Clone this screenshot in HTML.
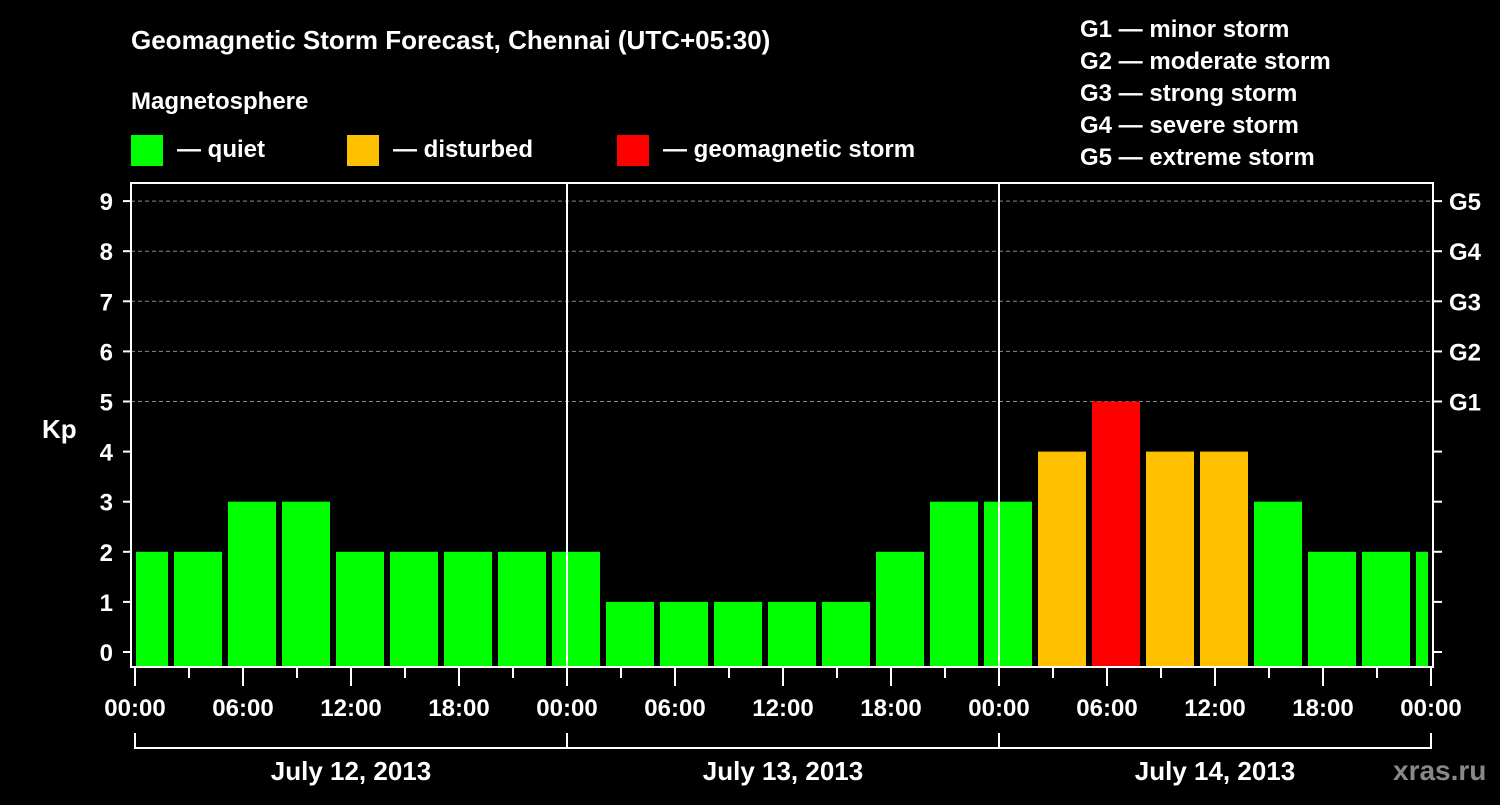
<!DOCTYPE html>
<html><head><meta charset="utf-8"><style>
html,body{margin:0;padding:0;background:#000;}
svg text{font-family:"Liberation Sans",Arial,sans-serif;font-weight:bold;fill:#fff;}
</style></head><body>
<svg id="chart" width="1500" height="800" xmlns="http://www.w3.org/2000/svg">
<rect width="1500" height="800" fill="#000"/>
<text x="131" y="49" font-size="26">Geomagnetic Storm Forecast, Chennai (UTC+05:30)</text>
<text x="131" y="109" font-size="24">Magnetosphere</text>
<g>
<rect x="131" y="135" width="32" height="31" fill="#00ff00"/>
<text x="177" y="157" font-size="24">— quiet</text>
<rect x="347" y="135" width="32" height="31" fill="#ffc000"/>
<text x="393" y="157" font-size="24">— disturbed</text>
<rect x="617" y="135" width="32" height="31" fill="#ff0000"/>
<text x="663" y="157" font-size="24">— geomagnetic storm</text>
</g>
<g font-size="24">
<text x="1080" y="37">G1 — minor storm</text>
<text x="1080" y="69">G2 — moderate storm</text>
<text x="1080" y="101">G3 — strong storm</text>
<text x="1080" y="133">G4 — severe storm</text>
<text x="1080" y="165">G5 — extreme storm</text>
</g>
<text x="42" y="438" font-size="26">Kp</text>
<g id="grid"></g>
<g id="bars"></g>
<g id="axes"></g>
<text x="1393" y="780" font-size="28" style="fill:#888">xras.ru</text>
</svg>
<script>
const kpValues = [2,2,3,3,2,2,2,2,2,1,1,1,1,1,2,3,3,4,5,4,4,3,2,2,2];
const yTicks = [0,1,2,3,4,5,6,7,8,9];
const gLabels = [{kp:5,t:"G1"},{kp:6,t:"G2"},{kp:7,t:"G3"},{kp:8,t:"G4"},{kp:9,t:"G5"}];
const xTickLabels = ["00:00","06:00","12:00","18:00","00:00","06:00","12:00","18:00","00:00","06:00","12:00","18:00","00:00"];
const dayLabels = ["July 12, 2013","July 13, 2013","July 14, 2013"];

const NS="http://www.w3.org/2000/svg";
const L=131,R=1433,T=183,B=667;
const x0=135, hourPx=18;
const yS=k=>652-k*50.1;
const xH=h=>x0+h*hourPx;
function mk(tag,attrs,parent){const e=document.createElementNS(NS,tag);for(const k in attrs)e.setAttribute(k,attrs[k]);parent.appendChild(e);return e;}
const grid=document.getElementById('grid'),bars=document.getElementById('bars'),axes=document.getElementById('axes');
gLabels.forEach(g=>{const l=mk('line',{x1:L,x2:R,y1:yS(g.kp),y2:yS(g.kp),stroke:'#888','stroke-dasharray':'4,3','stroke-width':1},grid);

});
kpValues.forEach((v,i)=>{
  const c=xH(0.5+3*i);let a=c-24,b=c+24;a=Math.max(a,136);b=Math.min(b,1428);
  if(b<=a)return;
  const col=v>=5?'#ff0000':(v>=4?'#ffc000':'#00ff00');
  const r=mk('rect',{x:a,y:yS(v),width:b-a,height:B-yS(v),fill:col},bars);
  
  
});
[567,999].forEach(x=>{const l=mk('line',{x1:x,x2:x,y1:T,y2:B,stroke:'#fff','stroke-width':2},axes);

});
const fr=mk('rect',{x:L,y:T,width:R-L,height:B-T,fill:'none',stroke:'#fff','stroke-width':2},axes);


yTicks.forEach(k=>{const y=yS(k);
  mk('line',{x1:123,x2:L,y1:y,y2:y,stroke:'#fff','stroke-width':2},axes);
  mk('line',{x1:R,x2:1442,y1:y,y2:y,stroke:'#fff','stroke-width':2},axes);
  const t=mk('text',{x:113,y:y+9,'font-size':24,'text-anchor':'end'},axes);t.textContent=k;
  
  
});
gLabels.forEach(g=>{const t=mk('text',{x:1449,y:yS(g.kp)+9,'font-size':24},axes);t.textContent=g.t;
  
  });
for(let h=0;h<=72;h+=3){const major=h%6===0;
  mk('line',{x1:xH(h),x2:xH(h),y1:B,y2:major?686:678,stroke:'#fff','stroke-width':2},axes);}
xTickLabels.forEach((s,i)=>{const t=mk('text',{x:xH(i*6),y:716,'font-size':24,'text-anchor':'middle'},axes);t.textContent=s;
  
  });
mk('line',{x1:xH(0),x2:xH(72),y1:748,y2:748,stroke:'#fff','stroke-width':2},axes);
[0,24,48,72].forEach(h=>mk('line',{x1:xH(h),x2:xH(h),y1:733,y2:749,stroke:'#fff','stroke-width':2},axes));
dayLabels.forEach((s,i)=>{const t=mk('text',{x:xH(i*24+12),y:780,'font-size':26,'text-anchor':'middle'},axes);t.textContent=s;
  
  });
</script>
</body></html>
